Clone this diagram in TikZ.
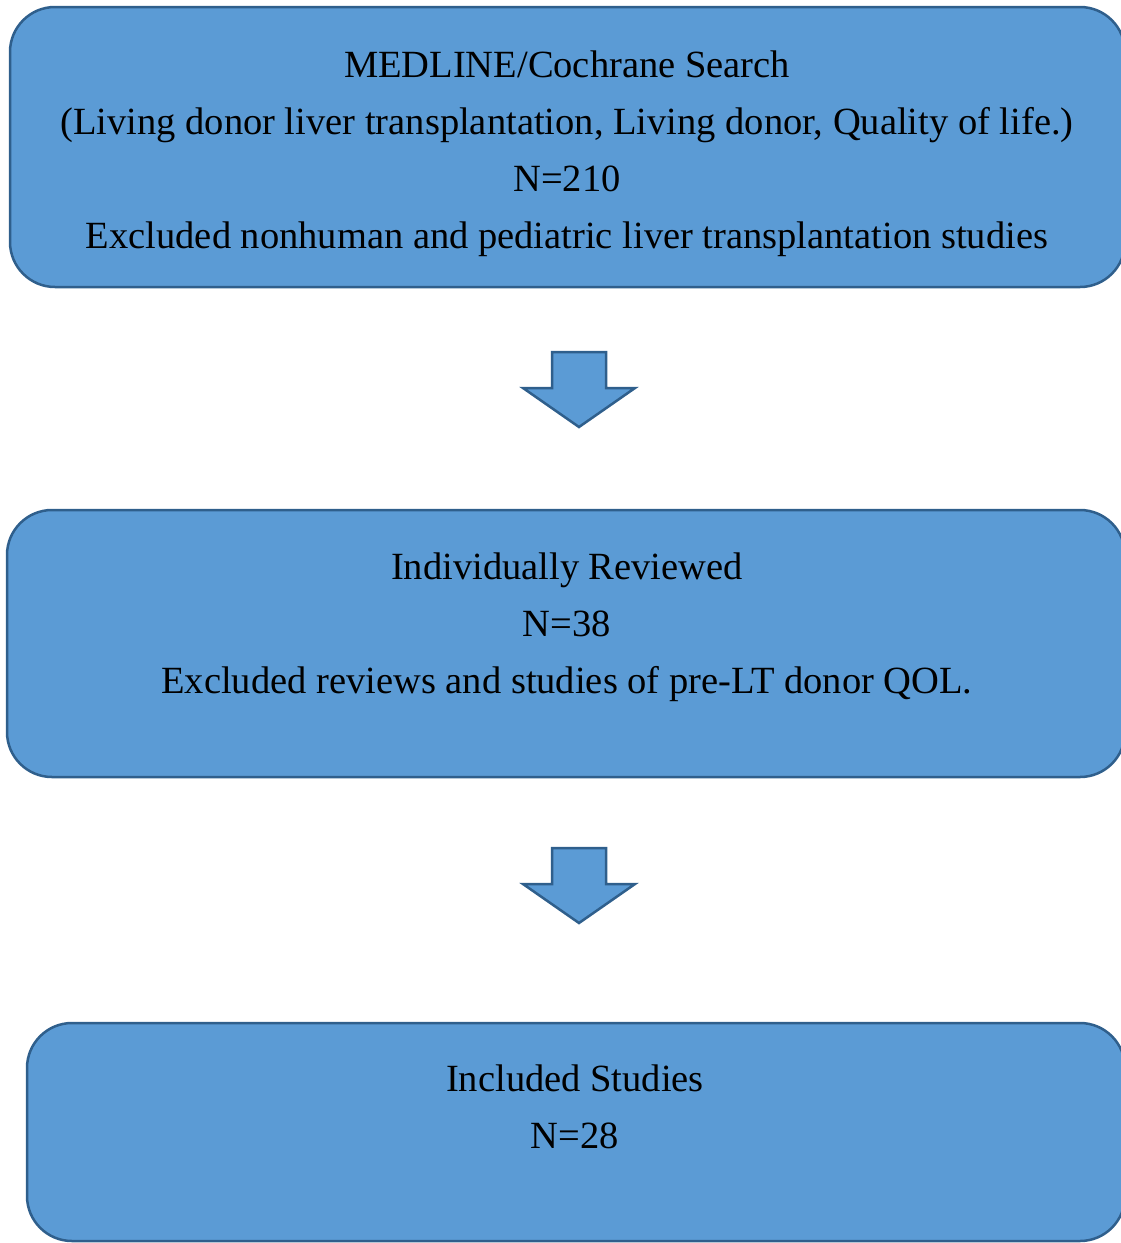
\documentclass[tikz,border=0pt]{standalone}
\usepackage{fontspec}
\setmainfont{Liberation Serif}
\usetikzlibrary{positioning}
\definecolor{boxfill}{HTML}{5B9BD5}
\definecolor{boxline}{HTML}{2F5F8C}
\tikzset{
  flowbox/.style={draw=boxline, fill=boxfill, line width=2.5pt, rounded corners=45pt, inner sep=0pt},
  boxtext/.style={align=center, font=\fontsize{38.5}{57}\selectfont, inner sep=0pt},
  blockarrow/.style={draw=boxline, fill=boxfill, line width=2.5pt, line join=miter}
}
\begin{document}
\begin{tikzpicture}[x=1pt, y=-1pt]
\useasboundingbox (0, 0) rectangle (1121, 1243);
% boxes
\node[flowbox, minimum width=1115pt, minimum height=280pt] (search) at (567.5, 147) {};
\node[flowbox, minimum width=1118pt, minimum height=267pt] (reviewed) at (566, 643.5) {};
\node[flowbox, minimum width=1098pt, minimum height=218pt] (included) at (576, 1132) {};
% arrows
\foreach \ay in {352, 848}
  \draw[blockarrow] (552, \ay) -- ++(54, 0) -- ++(0, 36) -- ++(29, 0) -- ++(-56, 39) -- ++(-56, -39) -- ++(29, 0) -- cycle;
%Text
\node[boxtext] (searchtxt) at (567, 154) {MEDLINE/Cochrane Search\\(Living donor liver transplantation, Living donor, Quality of life.)\\N=210\\Excluded nonhuman and pediatric liver transplantation studies};
\node[boxtext] (reviewedtxt) at (567, 627) {Individually Reviewed\\N=38\\Excluded reviews and studies of pre-LT donor QOL.};
\node[boxtext] (includedtxt) at (575, 1107) {Included Studies\\N=28};
\end{tikzpicture}
\end{document}
